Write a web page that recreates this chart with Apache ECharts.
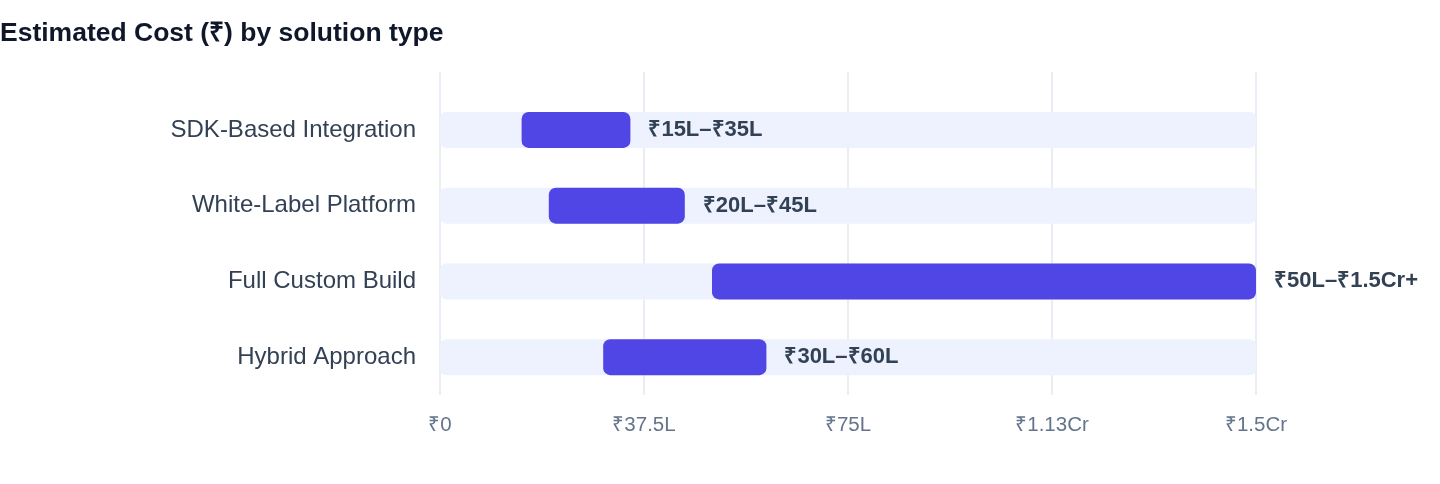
<!DOCTYPE html>
<html>
<head>
<meta charset="utf-8">
<script src="https://cdn.jsdelivr.net/npm/echarts@6/dist/echarts.min.js"></script>
<style>
html,body{margin:0;padding:0;background:#fff;}
#chart{width:1440px;height:484px;}
</style>
</head>
<body>
<div id="chart"></div>
<script>
const categories = ['SDK-Based Integration', 'White-Label Platform', 'Full Custom Build', 'Hybrid Approach'];
const lowValues = [15, 20, 50, 30];
const highValues = [35, 45, 150, 60];
const rangeLabels = ['₹15L–₹35L', '₹20L–₹45L', '₹50L–₹1.5Cr+', '₹30L–₹60L'];
const tickLabels = ['₹0', '₹37.5L', '₹75L', '₹1.13Cr', '₹1.5Cr'];
const axisMax = 150;
const tickStep = 37.5;

const FONT = "'Liberation Sans', Arial, Helvetica, sans-serif";
const chart = echarts.init(document.getElementById('chart'));
const spans = highValues.map((h, i) => h - lowValues[i]);

chart.setOption({
  animation: false,
  textStyle: { fontFamily: FONT },
  title: {
    text: 'Estimated Cost (₹) by solution type',
    left: 0, top: 20, padding: 0,
    textStyle: { fontSize: 26.5, fontWeight: 'bold', color: '#0f172a', fontFamily: FONT }
  },
  grid: [
    { left: 440, right: 184, top: 92, bottom: 89 },
    { left: 440, right: 184, top: 72, bottom: 89 }
  ],
  xAxis: [
    { type: 'value', gridIndex: 0, min: 0, max: axisMax, interval: tickStep, show: false },
    {
      type: 'value', gridIndex: 1, min: 0, max: axisMax, interval: tickStep,
      axisLine: { show: false }, axisTick: { show: false },
      splitLine: { show: true, lineStyle: { color: '#e2e8f0', width: 1.5 } },
      axisLabel: {
        margin: 20, fontSize: 20.5, color: '#64748b', fontFamily: FONT,
        formatter: v => tickLabels[Math.round(v / tickStep)]
      }
    }
  ],
  yAxis: [
    {
      type: 'category', gridIndex: 0, data: categories, inverse: true,
      axisLine: { show: false }, axisTick: { show: false }, splitLine: { show: false },
      axisLabel: { margin: 24, fontSize: 24, color: '#334155', fontFamily: FONT }
    },
    { type: 'value', gridIndex: 1, show: false, min: 0, max: 1 }
  ],
  series: [
    {
      type: 'bar', xAxisIndex: 0, yAxisIndex: 0, stack: 'r', data: lowValues,
      barWidth: 36, silent: true,
      itemStyle: { color: 'transparent' },
      showBackground: true,
      backgroundStyle: { color: '#eef2ff', borderRadius: 6 }
    },
    {
      type: 'bar', xAxisIndex: 0, yAxisIndex: 0, stack: 'r', data: spans,
      barWidth: 36,
      itemStyle: { color: '#4f46e5', borderRadius: 7 },
      label: {
        show: true, position: 'right', distance: 18,
        fontSize: 22, fontWeight: 'bold', color: '#334155', fontFamily: FONT,
        formatter: p => rangeLabels[p.dataIndex]
      }
    }
  ]
});
</script>
</body>
</html>
